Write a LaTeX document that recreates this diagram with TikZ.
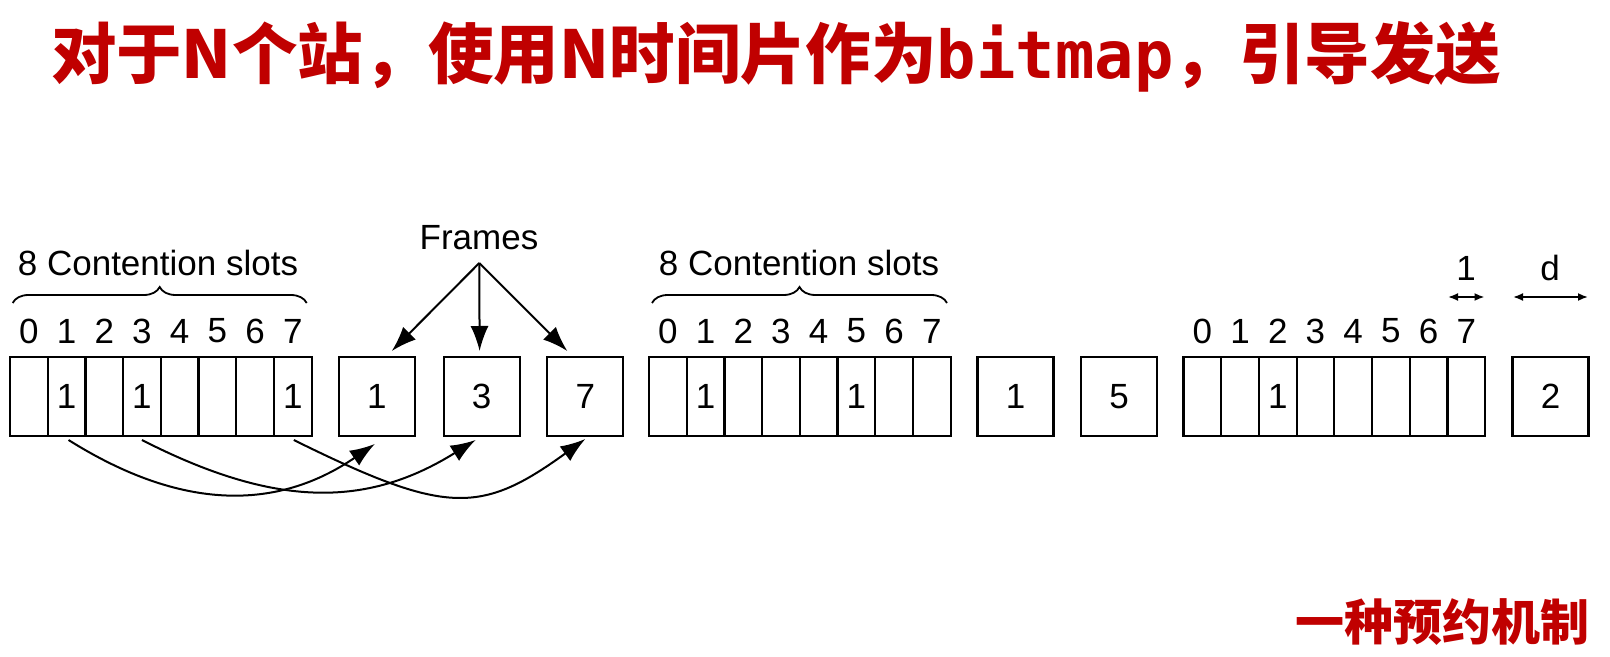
\documentclass[tikz,border=0pt]{standalone}
\usepackage{fontspec}
\usepackage{graphicx}
\setmainfont{Liberation Sans}
\newfontfamily\cjk{Noto Sans CJK SC}
\newfontfamily\monofam{DejaVu Sans Mono}
\usetikzlibrary{arrows.meta,decorations.pathreplacing}
\definecolor{titlered}{HTML}{C00000}
\tikzset{
  lbl/.style={font=\fontsize{17.5}{20}\selectfont, inner sep=0pt},
  slotbox/.style={draw, line width=1.1pt, minimum width=18.85pt, minimum height=39.5pt, inner sep=0pt, outer sep=0pt, font=\fontsize{17.5}{20}\selectfont},
  framebox/.style={draw, line width=1.1pt, minimum width=38pt, minimum height=39.5pt, inner sep=0pt, outer sep=0pt, font=\fontsize{17.5}{20}\selectfont},
  conn/.style={line width=1pt, -{Latex[length=12.5pt,width=9pt]}},
  dimarrow/.style={line width=0.9pt, {Latex[length=5pt,width=4pt]}-{Latex[length=5pt,width=4pt]}},
  bracestyle/.style={line width=0.9pt, decorate, decoration={brace, amplitude=8pt}},
  redtitle/.style={text=titlered, inner sep=0pt}
}
\begin{document}
\begin{tikzpicture}[x=0.5pt,y=-0.5pt]
\useasboundingbox (0,0) rectangle (1610,657);
% title
\node[redtitle] (title) at (776,57) {\resizebox{725pt}{\height}{\cjk\bfseries\fontsize{33}{36}\selectfont 对于N个站，使用N时间片作为{\monofam\bfseries bitmap}，引导发送}};
\node[redtitle] (sub) at (1442,622) {\cjk\bfseries\fontsize{24.5}{28}\selectfont 一种预约机制};
% groups of slots
\foreach \g/\left in {1/10,2/649,3/1183.5}{
  \foreach \i in {0,...,7}{
    \node[slotbox] (g\g s\i) at ({\left+37.7*(\i+0.5)},396.5) {};
    \node[lbl] (g\g d\i) at ({\left+37.7*(\i+0.5)},331) {\i};
  }
}
% bits set
\node[lbl] at (g1s1) {1};
\node[lbl] at (g1s3) {1};
\node[lbl] at (g1s7) {1};
\node[lbl] at (g2s1) {1};
\node[lbl] at (g2s5) {1};
\node[lbl] at (g3s2) {1};
% frames
\node[framebox] (f1) at (376.8,396.5) {1};
\node[framebox] (f3) at (481.6,396.5) {3};
\node[framebox] (f7) at (585.3,396.5) {7};
\node[framebox] (f1b) at (1015.5,396.5) {1};
\node[framebox] (f5) at (1119.2,396.5) {5};
\node[framebox] (f2) at (1550.5,396.5) {2};
% contention slot labels and braces
\node[lbl] (cs1) at (158,263) {8 Contention slots};
\node[lbl] (cs2) at (799,263) {8 Contention slots};
\coordinate (b1l) at (12.7,303);
\coordinate (b1r) at (306.7,303);
\coordinate (b2l) at (652,303);
\coordinate (b2r) at (947,303);
\draw[bracestyle] (b1l) -- (b1r);
\draw[bracestyle] (b2l) -- (b2r);
% Frames label and arrows
\node[lbl] (frames) at (479,238) {Frames};
\coordinate (fo) at (479.3,263);
\draw[conn] (fo) -- ([shift={(15,-6)}]f1.north);
\draw[conn] (fo) -- ([shift={(-2,-6)}]f3.north);
\draw[conn] (fo) -- ([shift={(-18,-6)}]f7.north);
% curved arrows from bits to frames
\draw[conn] ([shift={(2,4)}]g1s1.south) .. controls +(113,71) and +(-98,67) .. ([shift={(-2,8)}]f1.south);
\draw[conn] ([shift={(0,4)}]g1s3.south) .. controls +(133,68) and +(-109,68) .. ([shift={(-6,4)}]f3.south);
\draw[conn] ([shift={(1,4)}]g1s7.south) .. controls +(152,75) and +(-105,76) .. ([shift={(0,3)}]f7.south);
% dimension arrows
\coordinate (d1l) at (1448,297);
\coordinate (d1r) at (1484.5,297);
\coordinate (d2l) at (1513,297);
\coordinate (d2r) at (1588,297);
\draw[dimarrow] (d1l) -- (d1r);
\draw[dimarrow] (d2l) -- (d2r);
\node[lbl] (one) at (1466,268) {1};
\node[lbl] (dd) at (1550,268) {d};
\end{tikzpicture}
\end{document}
